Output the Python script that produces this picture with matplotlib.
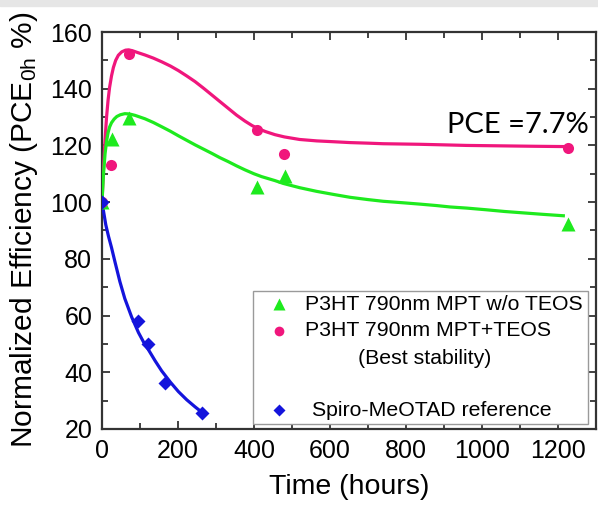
import matplotlib
matplotlib.use("Agg")
import matplotlib.pyplot as plt
from matplotlib.ticker import MultipleLocator
from matplotlib.patches import Rectangle

plt.rcParams['font.family'] = ['Liberation Sans', 'DejaVu Sans']
plt.rcParams['mathtext.fontset'] = 'custom'
plt.rcParams['mathtext.rm'] = 'Liberation Sans'
plt.rcParams['mathtext.it'] = 'Liberation Sans'

# ---- measured points ----
green_t = [0, 25, 72, 409, 481, 1226]
green_v = [100, 122.3, 129.6, 105.2, 109.2, 92.3]
pink_t = [0, 24, 72, 409, 479, 1225]
pink_v = [100, 113.1, 152.2, 125.4, 117.0, 119.0]
blue_t = [0, 94, 120, 167, 264]
blue_v = [100, 58.2, 50.0, 36.1, 25.5]

# ---- fitted curves ----
pink_ct = [0, 4, 8, 12, 16, 20, 25, 30, 36, 43, 52, 62, 70, 80, 95, 113, 135, 157, 180,
           201, 223, 245, 267, 289, 310, 332, 354, 376, 395, 410, 430, 455, 480, 520, 565,
           610, 653, 700, 740, 790, 837, 900, 960, 1020, 1080, 1140, 1214]
pink_cv = [100, 112, 122, 130, 136, 140.5, 144.5, 147.5, 150, 151.8, 153, 153.6, 153.7,
           153.4, 152.7, 151.9, 150.8, 149.5, 148, 146.4, 144.5, 142.5, 140.2, 137.8, 135.5,
           133.1, 130.7, 128.6, 127, 126, 124.9, 123.8, 123.0, 122.1, 121.6, 121.3, 121,
           120.8, 120.6, 120.5, 120.4, 120.2, 120.0, 119.9, 119.8, 119.7, 119.6]
green_ct = [0, 4, 8, 12, 16, 20, 25, 32, 39, 48, 60, 72, 87, 100, 113, 135, 157, 180, 201,
            223, 245, 267, 289, 310, 332, 354, 376, 400, 420, 455, 477, 520, 565, 610, 653,
            700, 740, 790, 837, 880, 916, 960, 1012, 1060, 1110, 1160, 1214]
green_cv = [100, 110, 117, 121.5, 124.5, 126.5, 128, 129.3, 130.2, 130.8, 131.2, 131.1,
            130.6, 130, 129.4, 128.1, 126.6, 125, 123.4, 121.8, 120.2, 118.7, 117.2, 115.7,
            114.3, 112.8, 111.4, 110, 109, 107.6, 106.6, 105.1, 103.8, 102.7, 101.7, 100.9,
            100.3, 99.8, 99.3, 98.8, 98.3, 97.9, 97.3, 96.7, 96.2, 95.7, 95.2]
blue_ct = [0, 5, 10, 17, 25, 34, 47, 60, 78, 96, 110, 122, 140, 157, 180, 201, 223, 245, 260, 271]
blue_cv = [100, 96, 92, 88, 84, 79, 72, 66, 59.5, 54, 50.5, 48, 44, 40.5, 36.5, 33.2, 30.3,
           27.8, 26.2, 25]

x_ticks = [0, 200, 400, 600, 800, 1000, 1200]
y_ticks = [20, 40, 60, 80, 100, 120, 140, 160]

labels = ["P3HT 790nm MPT w/o TEOS", "P3HT 790nm MPT+TEOS", "(Best stability)",
          "Spiro-MeOTAD reference"]

PINK = '#F0167C'
GREEN = '#1EEA1E'
BLUE = '#1414DC'

W, H = 598, 505
fig = plt.figure(figsize=(W / 100, H / 100), dpi=100)
fig.patches.append(Rectangle((0, 1 - 6 / H), 1, 6 / H, transform=fig.transFigure,
                             color='#e6e6e6', zorder=0))
L, R, T, B = 102, 596, 32, 429
ax = fig.add_axes([L / W, 1 - B / H, (R - L) / W, (B - T) / H])

ax.plot(pink_ct, pink_cv, color=PINK, lw=2.3, zorder=3)
ax.plot(green_ct, green_cv, color=GREEN, lw=2.3, zorder=3)
ax.plot(blue_ct, blue_cv, color=BLUE, lw=2.3, zorder=3)
ax.plot(green_t, green_v, '^', color=GREEN, ms=9.5, mec='none', zorder=4)
ax.plot(pink_t, pink_v, 'o', color=PINK, ms=8, mec='none', zorder=4)
ax.plot(blue_t, blue_v, 'D', color=BLUE, ms=7, mec='none', zorder=4)

ax.set_xlim(0, 1300)
ax.set_ylim(20, 160)
ax.set_xticks(x_ticks)
ax.set_yticks(y_ticks)
ax.xaxis.set_minor_locator(MultipleLocator(100))
ax.yaxis.set_minor_locator(MultipleLocator(10))
ax.tick_params(which='both', direction='in', top=True, right=True, width=1.3, color='#333333')
ax.tick_params(which='major', length=5.5, labelsize=18, pad=7)
ax.tick_params(which='minor', length=4.5)
for s in ax.spines.values():
    s.set_linewidth(1.6)
    s.set_color('#333333')

ax.set_xlabel("Time (hours)", fontsize=20.5)
ax.xaxis.set_label_coords(0.5, (B - 474) / (B - T))
ax.xaxis.label.set_va('top')
ax.set_ylabel("Normalized Efficiency (PCE$_{\\rm 0h}$ %)", fontsize=21.5)
ax.yaxis.set_label_coords((40 - L) / (R - L), (B - 230) / (B - T))


def axc(px, py):
    return (px - L) / (R - L), (B - py) / (B - T)


ax.text(*axc(447, 125), "PCE =7.7%", fontsize=21, family=['Lato', 'DejaVu Sans'],
        ha='left', va='center', zorder=5, transform=ax.transAxes)

# legend box
x0, y1 = axc(253, 291)
x1, y0 = axc(588, 424)
ax.add_patch(Rectangle((x0, y0), x1 - x0, y1 - y0, transform=ax.transAxes, fill=True,
                       facecolor='white', edgecolor='#9a9a9a', lw=1.0, zorder=6))
ax.plot(*axc(279, 304), '^', color=GREEN, ms=8.5, mec='none', transform=ax.transAxes, zorder=7, clip_on=False)
ax.plot(*axc(279, 331), 'o', color=PINK, ms=7, mec='none', transform=ax.transAxes, zorder=7, clip_on=False)
ax.plot(*axc(279, 410), 'D', color=BLUE, ms=6.5, mec='none', transform=ax.transAxes, zorder=7, clip_on=False)
lf = 15.3
ax.text(*axc(305, 304), labels[0], fontsize=lf, ha='left', va='center', transform=ax.transAxes, zorder=7)
ax.text(*axc(305, 331), labels[1], fontsize=lf, ha='left', va='center', transform=ax.transAxes, zorder=7)
ax.text(*axc(425, 358), labels[2], fontsize=lf, ha='center', va='center', transform=ax.transAxes, zorder=7)
ax.text(*axc(312, 410), labels[3], fontsize=lf, ha='left', va='center', transform=ax.transAxes, zorder=7)

fig.savefig("out.png", dpi=100)
